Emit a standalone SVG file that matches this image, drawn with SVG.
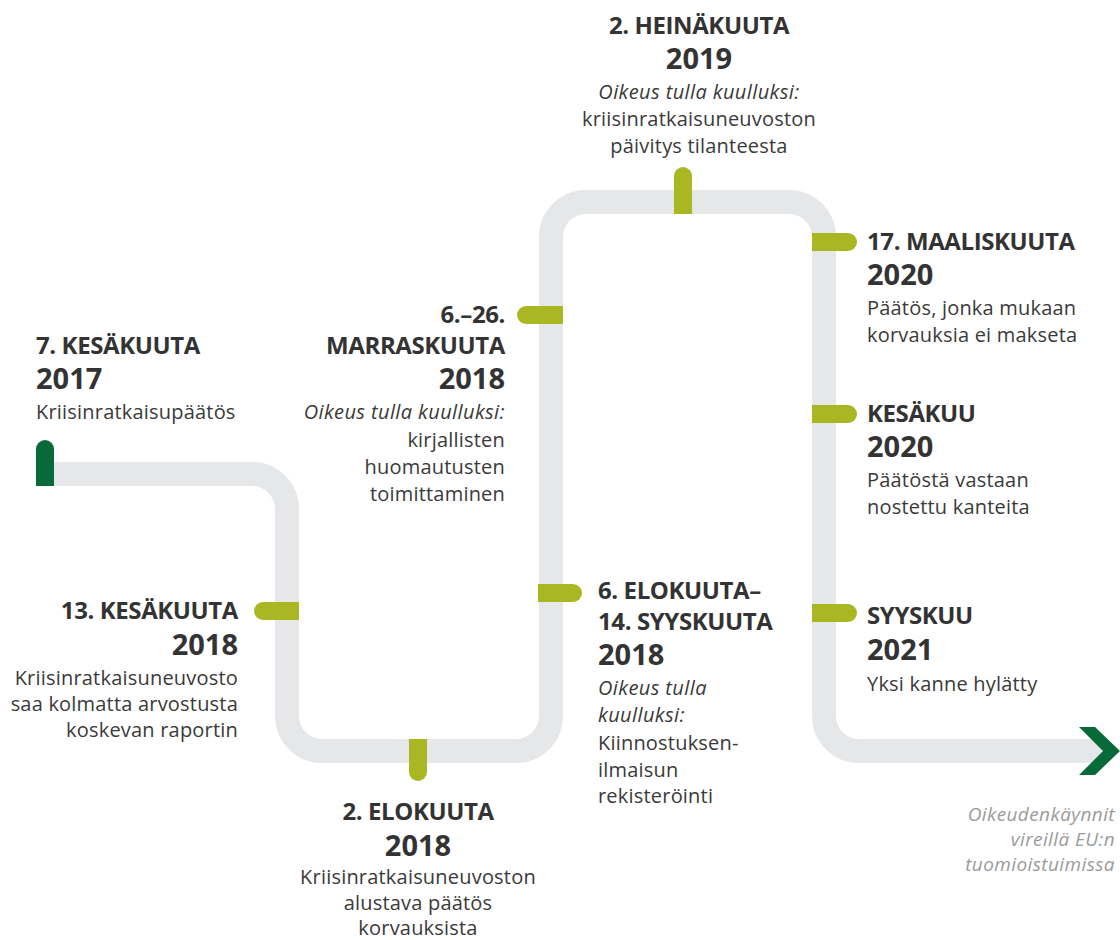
<svg xmlns="http://www.w3.org/2000/svg" width="1120" height="940" viewBox="0 0 1120 940">
<style>
text{font-family:"Open Sans","Noto Sans",sans-serif;fill:#3a3a3a}
.h{font-weight:700;font-size:24px;letter-spacing:-0.4px;fill:#333}
.y{font-weight:700;font-size:29px;fill:#333}
.b{font-size:20px;letter-spacing:0.2px}
.i{font-size:20px;font-style:italic;letter-spacing:0.4px}
.g{font-size:19px;font-style:italic;fill:#9b9b9b;letter-spacing:0.4px}
.r{text-anchor:end}
.c{text-anchor:middle}
.tick{fill:#A9B822}
</style>
<g id="connectors">
<path d="M36,474 H252 A35,35 0 0 1 287,509 V716 A35,35 0 0 0 322,751 H516 A35,35 0 0 0 551,716 V237 A35,35 0 0 1 586,202 H789 A35,35 0 0 1 824,237 V716 A35,35 0 0 0 859,751 H1102" fill="none" stroke="#E6E7E8" stroke-width="24"/>
<polygon points="1079,727 1095,727 1120,751 1095,775 1079,775 1103,751" fill="#076A38"/>
</g>
<g id="start">
<path d="M36,486 V449 A9,9 0 0 1 54,449 V486 Z" fill="#076A38"/>
<text class="h" x="36" y="354">7. KESÄKUUTA</text>
<text class="y" x="36" y="389">2017</text>
<text class="b" x="36" y="419">Kriisinratkaisupäätös</text>
</g>
<g id="n-2018-06-13">
<path class="tick" d="M299,602 H263 A9,9 0 0 0 263,620 H299 Z"/>
<text class="h r" x="238" y="619">13. KESÄKUUTA</text>
<text class="y r" x="238" y="655">2018</text>
<text class="b r" x="238" y="685">Kriisinratkaisuneuvosto</text>
<text class="b r" x="238" y="711">saa kolmatta arvostusta</text>
<text class="b r" x="238" y="737">koskevan raportin</text>
</g>
<g id="n-2018-08-02">
<path class="tick" d="M409,739 V772 A9,9 0 0 0 427,772 V739 Z"/>
<text class="h c" x="418" y="820">2. ELOKUUTA</text>
<text class="y c" x="418" y="856">2018</text>
<text class="b c" x="418" y="884">Kriisinratkaisuneuvoston</text>
<text class="b c" x="418" y="910">alustava päätös</text>
<text class="b c" x="418" y="935">korvauksista</text>
</g>
<g id="n-2018-11">
<path class="tick" d="M563,306 H526 A9,9 0 0 0 526,324 H563 Z"/>
<text class="h r" x="505" y="323">6.–26.</text>
<text class="h r" x="505" y="354">MARRASKUUTA</text>
<text class="y r" x="505" y="389">2018</text>
<text class="i r" x="505" y="419">Oikeus tulla kuulluksi:</text>
<text class="b r" x="505" y="447">kirjallisten</text>
<text class="b r" x="505" y="474">huomautusten</text>
<text class="b r" x="505" y="501">toimittaminen</text>
</g>
<g id="n-2018-08-06">
<path class="tick" d="M538,584 H573 A9,9 0 0 1 573,602 H538 Z"/>
<text class="h" x="598" y="599">6. ELOKUUTA–</text>
<text class="h" x="598" y="630">14. SYYSKUUTA</text>
<text class="y" x="598" y="665">2018</text>
<text class="i" x="598" y="695">Oikeus tulla</text>
<text class="i" x="598" y="722">kuulluksi:</text>
<text class="b" x="598" y="750">Kiinnostuksen-</text>
<text class="b" x="598" y="777">ilmaisun</text>
<text class="b" x="598" y="803">rekisteröinti</text>
</g>
<g id="n-2019-07-02">
<path class="tick" d="M674,214 V176 A9,9 0 0 1 692,176 V214 Z"/>
<text class="h c" x="699" y="34">2. HEINÄKUUTA</text>
<text class="y c" x="699" y="69">2019</text>
<text class="i c" x="699" y="99">Oikeus tulla kuulluksi:</text>
<text class="b c" x="699" y="126">kriisinratkaisuneuvoston</text>
<text class="b c" x="699" y="153">päivitys tilanteesta</text>
</g>
<g id="n-2020-03-17">
<path class="tick" d="M812,233 H848 A9,9 0 0 1 848,251 H812 Z"/>
<text class="h" x="867" y="250">17. MAALISKUUTA</text>
<text class="y" x="867" y="285">2020</text>
<text class="b" x="867" y="315">Päätös, jonka mukaan</text>
<text class="b" x="867" y="342">korvauksia ei makseta</text>
</g>
<g id="n-2020-06">
<path class="tick" d="M812,405 H848 A9,9 0 0 1 848,423 H812 Z"/>
<text class="h" x="867" y="422">KESÄKUU</text>
<text class="y" x="867" y="457">2020</text>
<text class="b" x="867" y="487">Päätöstä vastaan</text>
<text class="b" x="867" y="514">nostettu kanteita</text>
</g>
<g id="n-2021-09">
<path class="tick" d="M812,604 H848 A9,9 0 0 1 848,622 H812 Z"/>
<text class="h" x="867" y="624">SYYSKUU</text>
<text class="y" x="867" y="660">2021</text>
<text class="b" x="867" y="691">Yksi kanne hylätty</text>
</g>
<g id="end-note">
<text class="g r" x="1115" y="821">Oikeudenkäynnit</text>
<text class="g r" x="1115" y="846">vireillä EU:n</text>
<text class="g r" x="1115" y="871">tuomioistuimissa</text>
</g>
</svg>
